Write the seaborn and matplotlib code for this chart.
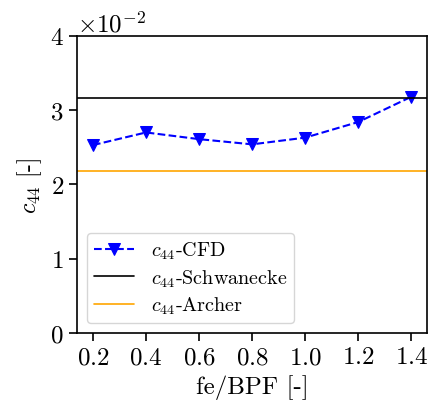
import matplotlib
matplotlib.use("Agg")
import matplotlib.pyplot as plt
import seaborn as sns
import pandas as pd

# Dados
fe_bpf = [0.2, 0.4, 0.6, 0.8, 1.0, 1.2, 1.4]
c44_cfd = [0.0253, 0.0270, 0.0261, 0.0254, 0.0263, 0.0284, 0.0318]
c44_schwanecke = 0.0316
c44_archer = 0.0218

sns.set_style("ticks")
plt.rcParams['font.family'] = 'serif'
plt.rcParams['font.serif'] = ['cmr10']
plt.rcParams['mathtext.fontset'] = 'cm'
plt.rcParams['axes.formatter.use_mathtext'] = True
plt.rcParams['axes.unicode_minus'] = False
plt.rcParams['axes.edgecolor'] = 'black'
plt.rcParams['xtick.color'] = 'black'
plt.rcParams['ytick.color'] = 'black'
plt.rcParams['text.color'] = 'black'
plt.rcParams['axes.labelcolor'] = 'black'

df = pd.DataFrame({'x': fe_bpf, 'y': c44_cfd})

fig, ax = plt.subplots(figsize=(4.28, 4.14), dpi=100)
fig.subplots_adjust(left=0.18, right=0.998, top=0.911, bottom=0.193)

sns.lineplot(data=df, x='x', y='y', ax=ax, color='blue', linestyle='--',
             marker='v', markersize=8, markeredgecolor='blue', linewidth=1.5,
             label=r'$c_{44}$-CFD')
ax.axhline(c44_schwanecke, color='black', linewidth=1.2, label=r'$c_{44}$-Schwanecke')
ax.axhline(c44_archer, color='orange', linewidth=1.2, label=r'$c_{44}$-Archer')

ax.set_ylim(0, 0.04)
ax.set_xticks(fe_bpf)
ax.ticklabel_format(axis='y', style='sci', scilimits=(-2, -2))
ax.tick_params(labelsize=18, length=6, width=1.2)
ax.yaxis.get_offset_text().set_fontsize(18)
for s in ax.spines.values():
    s.set_linewidth(1.2)
ax.set_xlabel('fe/BPF [-]', fontsize=18)
ax.set_ylabel(r'$c_{44}$ [-]', fontsize=17)
ax.legend(loc='lower left', fontsize=14.5, frameon=True, labelspacing=0.3,
          borderpad=0.35)

plt.savefig('out.png', dpi=100)
